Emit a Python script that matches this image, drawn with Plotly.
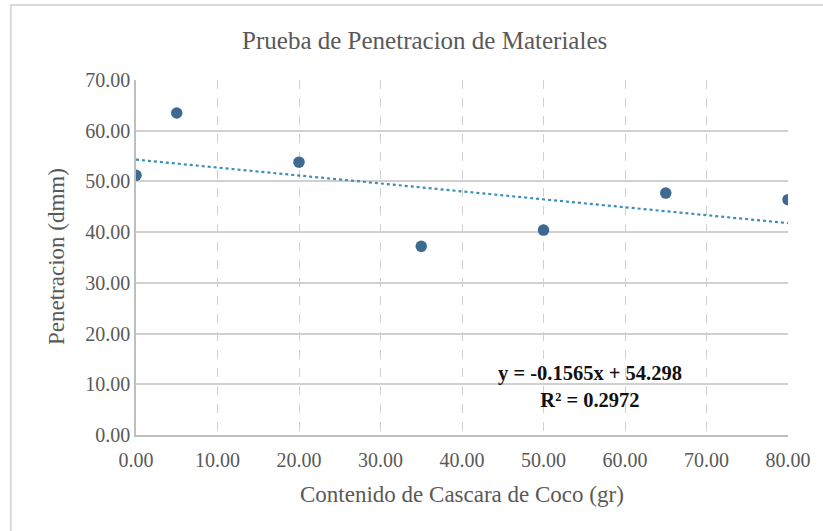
import plotly.graph_objects as go

# Data: coconut shell content vs penetration
contenido = [0, 5, 20, 35, 50, 65, 80]
penetracion = [51.2, 63.5, 53.8, 37.2, 40.4, 47.7, 46.4]

# Linear trendline parameters (as reported)
pendiente = -0.1565
intercepto = 54.298
r2 = 0.2972

x_ticks = [0, 10, 20, 30, 40, 50, 60, 70, 80]
y_ticks = [0, 10, 20, 30, 40, 50, 60, 70]

serif = "Liberation Serif, Times New Roman, serif"
gray_txt = "#595959"

trend_x = [min(contenido), max(contenido)]
trend_y = [pendiente * v + intercepto for v in trend_x]

fig = go.Figure()

fig.add_trace(go.Scatter(
    x=trend_x, y=trend_y, mode="lines",
    line=dict(color="#3b8fb8", width=2.2, dash="dot"),
    hoverinfo="skip", showlegend=False,
))

fig.add_trace(go.Scatter(
    x=contenido, y=penetracion, mode="markers",
    marker=dict(size=11.5, color="#3e6a91"),
    showlegend=False,
))

fig.add_annotation(
    x=55.7, y=9.5, xref="x", yref="y",
    text=f"<b>y = {pendiente:.4f}x + {intercepto:.3f}</b><br><b>R² = {r2:.4f}</b>",
    showarrow=False, align="center", xanchor="center", yanchor="middle",
    font=dict(family=serif, size=20.5, color="#111111"),
)

# Axis titles (positions given in pixels, converted below)
fig.add_annotation(
    x=462, y=531 - 494, xref="paper", yref="paper",
    text="Contenido de Cascara de Coco (gr)", showarrow=False,
    xanchor="center", yanchor="middle",
    font=dict(family=serif, size=23, color=gray_txt),
)
fig.add_annotation(
    x=56, y=531 - 257, xref="paper", yref="paper",
    text="Penetracion (dmm)", showarrow=False, textangle=-90,
    xanchor="center", yanchor="middle",
    font=dict(family=serif, size=23, color=gray_txt),
)

# Outer chart border
fig.add_shape(
    type="rect", xref="paper", yref="paper",
    x0=-0.192, x1=1.2, y0=-0.3, y1=1.211,
    line=dict(color="#d9d9d9", width=2), layer="below",
)

fig.update_layout(
    width=823, height=531,
    margin=dict(l=136, r=35, t=80, b=96),
    paper_bgcolor="white", plot_bgcolor="white",
    title=dict(
        text="Prueba de Penetracion de Materiales",
        x=0.516, xanchor="center", y=0.925, yanchor="middle",
        font=dict(family=serif, size=25, color=gray_txt),
    ),
    xaxis=dict(
        range=[0, 80], tickvals=x_ticks,
        ticktext=[f"{v:.2f}" for v in x_ticks],
        showgrid=True, gridcolor="#d0d0d0", griddash="dash", gridwidth=1,
        showline=True, linecolor="#bfbfbf", linewidth=1.5,
        zeroline=False, ticks="", ticklabelstandoff=6,
        tickfont=dict(family=serif, size=20, color=gray_txt),
    ),
    yaxis=dict(
        range=[0, 70], tickvals=y_ticks,
        ticktext=[f"{v:.2f}" for v in y_ticks],
        showgrid=True, gridcolor="#d0d0d0", gridwidth=1.5,
        showline=True, linecolor="#bfbfbf", linewidth=1.5,
        zeroline=False, ticks="", ticklabelstandoff=0,
        tickfont=dict(family=serif, size=20, color=gray_txt),
    ),
)

# Convert pixel-based annotation positions to paper fractions
pw, ph = 823 - 136 - 35, 531 - 80 - 96
for ann in fig.layout.annotations:
    if ann.xref == "paper":
        ann.x = (ann.x - 136) / pw
        ann.y = (ann.y - 96) / ph

fig.write_html("out.html")
